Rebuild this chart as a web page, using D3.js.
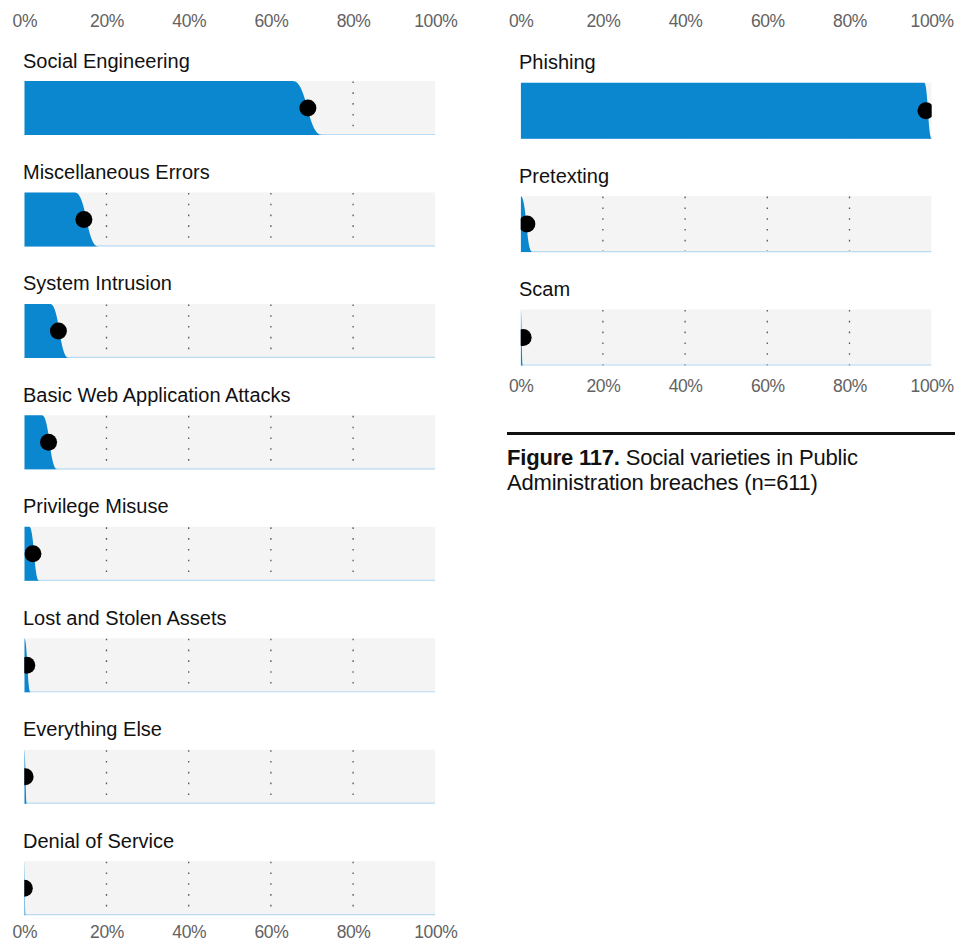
<!DOCTYPE html>
<html>
<head>
<meta charset="utf-8">
<script src="https://cdn.jsdelivr.net/npm/d3@7"></script>
<style>
  html, body { margin: 0; padding: 0; background: #ffffff; }
  svg { display: block; font-family: "Liberation Sans", Arial, sans-serif; }
</style>
</head>
<body>
<svg id="chart" width="969" height="946"></svg>
<script>
// ---- data (percent) ----
const leftCategories = ["Social Engineering", "Miscellaneous Errors", "System Intrusion",
  "Basic Web Application Attacks", "Privilege Misuse", "Lost and Stolen Assets",
  "Everything Else", "Denial of Service"];
const leftValues = [69, 14.5, 8.3, 5.9, 2.1, 0.6, 0.2, 0];
const leftLow    = [65.3, 12.3, 6.3, 4.3, 1.2, 0, 0, 0];
const leftHigh   = [72.5, 18, 10.8, 8, 3.6, 1.5, 0.6, 0.3];

const rightCategories = ["Phishing", "Pretexting", "Scam"];
const rightValues = [98.6, 1.5, 0.6];
const rightLow    = [98.2, 0, 0];
const rightHigh   = [100, 2.8, 0.5];

const tickValues = [0, 20, 40, 60, 80, 100];
const tickLabels = ["0%", "20%", "40%", "60%", "80%", "100%"];
const gridValues = [20, 40, 60, 80];

const captionBold = "Figure 117.";
const captionRest = " Social varieties in Public";
const captionLine2 = "Administration breaches (n=611)";

// ---- styles ----
const BLUE = "#0a87cf";
const BG = "#f4f4f4";
const svg = d3.select("#chart");

function panel(id, cats, vals, lows, highs, xRange, yStart, step, band, axisTopY, axisBottomY, labelX) {
  const x = d3.scaleLinear().domain([0, 100]).range(xRange);
  const rows = cats.map((c, i) => ({ cat: c, v: vals[i], lo: lows[i], hi: highs[i] }));
  const y = d3.scaleBand().domain(cats)
    .range([yStart, yStart + step * (cats.length - 1) + band])
    .paddingInner(1 - band / step).paddingOuter(0);
  const bw = y.bandwidth();

  const g = svg.append("g");
  const clipId = "clip-" + id;
  svg.append("defs").append("clipPath").attr("id", clipId)
    .append("rect").attr("x", x(0)).attr("y", 0).attr("width", x(100) - x(0)).attr("height", 946);

  // axes
  const fmt = (d) => tickLabels[tickValues.indexOf(d)];
  const top = g.append("g").attr("transform", `translate(0,${axisTopY})`)
    .call(d3.axisTop(x).tickValues(tickValues).tickFormat(fmt).tickSize(0).tickPadding(0));
  const bottom = g.append("g").attr("transform", `translate(0,${axisBottomY})`)
    .call(d3.axisBottom(x).tickValues(tickValues).tickFormat(fmt).tickSize(0).tickPadding(0));
  [top, bottom].forEach(a => {
    a.select(".domain").remove();
    a.selectAll("text").attr("fill", "#626262").attr("font-size", 17.5)
      .attr("font-family", "'Liberation Sans', Arial, sans-serif").attr("letter-spacing", "-0.4px");
  });

  const row = g.selectAll("g.row").data(rows).join("g").attr("class", "row");

  // labels
  row.append("text")
    .attr("x", labelX).attr("y", d => y(d.cat) - 13.5)
    .attr("font-size", 20).attr("letter-spacing", "0px").attr("fill", "#111")
    .text(d => d.cat);

  const body = row.append("g").attr("clip-path", `url(#${clipId})`);

  body.append("rect")
    .attr("x", x(0)).attr("y", d => y(d.cat))
    .attr("width", x(100) - x(0)).attr("height", bw)
    .attr("fill", BG);

  // grid (behind the slab)
  body.selectAll("line.grid").data(d => gridValues.map(v => ({ v, cat: d.cat }))).join("line")
    .attr("class", "grid")
    .attr("x1", d => x(d.v)).attr("x2", d => x(d.v))
    .attr("y1", d => y(d.cat) + 0.5).attr("y2", d => y(d.cat) + bw)
    .attr("stroke", "#555").attr("stroke-width", 1.3).attr("stroke-dasharray", "1.6 9.2");

  // baseline
  body.append("line")
    .attr("x1", x(0)).attr("x2", x(100))
    .attr("y1", d => y(d.cat) + bw - 0.5).attr("y2", d => y(d.cat) + bw - 0.5)
    .attr("stroke", "#b9dcf3").attr("stroke-width", 1.2);

  // slab area
  body.append("path")
    .attr("fill", BLUE)
    .attr("d", d => {
      const yy = d3.scaleLinear().domain([0, 1]).range([y(d.cat) + bw, y(d.cat)]);
      const pts = [[0, 1]];
      if (d.lo > 0) pts.push([d.lo, 1]);
      pts.push([d.hi, 0]);
      return d3.area().x(p => x(p[0])).y0(yy(0)).y1(p => yy(p[1])).curve(d3.curveBumpX)(pts);
    });

  // dots
  body.append("circle")
    .attr("cx", d => x(d.v)).attr("cy", d => y(d.cat) + bw / 2)
    .attr("r", 8.5).attr("fill", "#000");
}

panel("left", leftCategories, leftValues, leftLow, leftHigh, [24.3, 435.3], 81, 111.45, 54, 27, 926, 23);
panel("right", rightCategories, rightValues, rightLow, rightHigh, [520.7, 931.7], 82.7, 113.4, 56, 27, 380, 519);

// caption
const cap = svg.append("g");
cap.append("line").attr("x1", 507).attr("x2", 955).attr("y1", 433.5).attr("y2", 433.5)
  .attr("stroke", "#111").attr("stroke-width", 3);
const t1 = cap.append("text").attr("x", 507).attr("y", 465).attr("font-size", 22)
  .attr("letter-spacing", "-0.2px").attr("fill", "#111");
t1.append("tspan").attr("font-weight", "bold").text(captionBold);
t1.append("tspan").text(captionRest);
cap.append("text").attr("x", 507).attr("y", 490).attr("font-size", 22)
  .attr("letter-spacing", "-0.2px").attr("fill", "#111").text(captionLine2);
</script>
</body>
</html>
